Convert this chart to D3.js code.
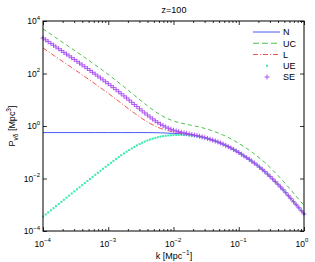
<!DOCTYPE html>
<html>
<head>
<meta charset="utf-8">
<script src="https://cdn.jsdelivr.net/npm/d3@7"></script>
<style>
  body { margin: 0; background: #fff; }
  svg { display: block; }
  text { font-family: "Liberation Sans", Arial, Helvetica, sans-serif; fill: #000; }
</style>
</head>
<body>
<svg id="chart" width="315" height="262"></svg>
<script>
// wave numbers for the marker series (25 per decade)
const kGrid = [
  1.00e-4, 1.10e-4, 1.20e-4, 1.32e-4, 1.45e-4, 1.58e-4, 1.74e-4, 1.91e-4, 2.09e-4, 2.29e-4,
  2.51e-4, 2.75e-4, 3.02e-4, 3.31e-4, 3.63e-4, 3.98e-4, 4.37e-4, 4.79e-4, 5.25e-4, 5.75e-4,
  6.31e-4, 6.92e-4, 7.59e-4, 8.32e-4, 9.12e-4,
  1.00e-3, 1.10e-3, 1.20e-3, 1.32e-3, 1.45e-3, 1.58e-3, 1.74e-3, 1.91e-3, 2.09e-3, 2.29e-3,
  2.51e-3, 2.75e-3, 3.02e-3, 3.31e-3, 3.63e-3, 3.98e-3, 4.37e-3, 4.79e-3, 5.25e-3, 5.75e-3,
  6.31e-3, 6.92e-3, 7.59e-3, 8.32e-3, 9.12e-3,
  1.00e-2, 1.10e-2, 1.20e-2, 1.32e-2, 1.45e-2, 1.58e-2, 1.74e-2, 1.91e-2, 2.09e-2, 2.29e-2,
  2.51e-2, 2.75e-2, 3.02e-2, 3.31e-2, 3.63e-2, 3.98e-2, 4.37e-2, 4.79e-2, 5.25e-2, 5.75e-2,
  6.31e-2, 6.92e-2, 7.59e-2, 8.32e-2, 9.12e-2,
  1.00e-1, 1.10e-1, 1.20e-1, 1.32e-1, 1.45e-1, 1.58e-1, 1.74e-1, 1.91e-1, 2.09e-1, 2.29e-1,
  2.51e-1, 2.75e-1, 3.02e-1, 3.31e-1, 3.63e-1, 3.98e-1, 4.37e-1, 4.79e-1, 5.25e-1, 5.75e-1,
  6.31e-1, 6.92e-1, 7.59e-1, 8.32e-1, 9.12e-1,
  1.00
];

const seValues = [
  2240, 1914, 1637, 1400, 1197, 1023, 875, 748, 640, 547,
  468, 400, 342, 292, 249, 213, 181, 154, 131, 111,
  94.4, 80.0, 67.7, 57.2, 48.4, 40.9, 34.4, 28.9, 24.2, 20.2,
  16.9, 14.0, 11.65, 9.66, 8.00, 6.62, 5.48, 4.54, 3.77, 3.14,
  2.625, 2.20, 1.854, 1.576, 1.352, 1.173, 1.030, 0.915, 0.823, 0.751,
  0.693, 0.646, 0.606, 0.573, 0.545, 0.520, 0.496, 0.473, 0.452, 0.430,
  0.408, 0.384, 0.360, 0.337, 0.313, 0.290, 0.2685, 0.246, 0.2248, 0.2036,
  0.1824, 0.163, 0.145, 0.128, 0.112, 0.0977, 0.0843, 0.0724, 0.0624, 0.0537,
  0.0457, 0.0385, 0.0324, 0.0269, 0.0224, 0.0182, 0.0148, 0.0120, 0.00955, 0.00759,
  0.00603, 0.00473, 0.00372, 0.00288, 0.00221, 0.00170, 0.00130, 0.00100, 7.67e-4, 5.89e-4,
  4.47e-4
];

const ueValues = [
  3.55e-4, 4.27e-4, 5.13e-4, 6.16e-4, 7.40e-4, 8.90e-4, 1.07e-3, 1.285e-3, 1.545e-3, 1.856e-3,
  2.23e-3, 2.68e-3, 3.22e-3, 3.86e-3, 4.64e-3, 5.57e-3, 6.68e-3, 8.01e-3, 9.61e-3, 0.0115,
  0.0138, 0.0165, 0.0197, 0.0235, 0.0280, 0.0334, 0.0396, 0.0470, 0.0556, 0.0655,
  0.0769, 0.0900, 0.1048, 0.1215, 0.1399, 0.1601, 0.1820, 0.2054, 0.2300, 0.2554,
  0.2812, 0.3063, 0.3301, 0.3529, 0.3743, 0.3930, 0.4101, 0.4238, 0.4357, 0.4456,
  0.4529, 0.4572, 0.4589, 0.4583, 0.4553, 0.4501, 0.4412, 0.4306, 0.4194, 0.4047,
  0.3882, 0.3690, 0.3487, 0.3281, 0.3067, 0.2855, 0.2644, 0.2438, 0.2226, 0.2017,
  0.1812, 0.1621, 0.1441, 0.1274, 0.1120, 0.0976, 0.0842, 0.0723, 0.0623, 0.0536,
  0.0457, 0.0385, 0.0324, 0.0269, 0.0224, 0.0182, 0.0148, 0.0120, 0.00955, 0.00759,
  0.00603, 0.00473, 0.00372, 0.00288, 0.00221, 0.00170, 0.00130, 0.00100, 7.67e-4, 5.89e-4,
  4.47e-4
];

// coarser grid for the plain line series
const kLine = [
  1.00e-4, 1.58e-4, 2.51e-4, 3.98e-4, 6.31e-4,
  1.00e-3, 1.58e-3, 2.51e-3, 3.98e-3, 6.31e-3,
  1.00e-2, 1.58e-2, 2.51e-2, 3.98e-2, 6.31e-2,
  1.00e-1, 1.58e-1, 2.51e-1, 3.98e-1, 6.31e-1,
  1.00
];
const nValues = [
  0.562, 0.562, 0.562, 0.562, 0.562, 0.562, 0.562, 0.562, 0.562, 0.550,
  0.525, 0.479, 0.398, 0.288, 0.182, 0.0977, 0.0457, 0.0182, 0.00603, 0.00170,
  4.47e-4
];
const ucValues = [
  5018, 2292, 1048, 477, 211, 91.6, 37.9, 14.8, 5.88, 2.63,
  1.55, 1.165, 0.914, 0.650, 0.409, 0.219, 0.1024, 0.0402, 0.0131, 0.00364,
  9.3e-4
];
const lValues = [
  940, 430, 197, 89.6, 40.0, 17.5, 7.41, 3.11, 1.43, 0.812,
  0.596, 0.496, 0.402, 0.289, 0.182, 0.0977, 0.0457, 0.0182, 0.00603, 0.00170,
  4.47e-4
];

const legendNames = ["N", "UC", "L", "UE", "SE"];
const xMajor = [1e-4, 1e-3, 1e-2, 1e-1, 1];
const yMajor = [1e-4, 1e-2, 1, 1e2, 1e4];

const plotLeft = 43, plotRight = 304, plotTop = 21, plotBottom = 231;
const svg = d3.select("#chart");

const x = d3.scaleLog().domain([1e-4, 1]).range([plotLeft, plotRight]);
const y = d3.scaleLog().domain([1e-4, 1e4]).range([plotBottom, plotTop]);

const colN = "#3548f5", colUC = "#3cb83c", colL = "#f04040", colUE = "#38eab0", colSE = "#a444f4";

// lines
const line = d3.line()
    .x(d => x(d[0]))
    .y(d => y(d[1]))
    .curve(d3.curveMonotoneX);

svg.append("path")
    .attr("d", line(d3.zip(kLine, nValues)))
    .attr("fill", "none").attr("stroke", colN).attr("stroke-width", 0.9);
svg.append("path")
    .attr("d", line(d3.zip(kLine, ucValues)))
    .attr("fill", "none").attr("stroke", colUC).attr("stroke-width", 0.9)
    .attr("stroke-dasharray", "4,3");
svg.append("path")
    .attr("d", line(d3.zip(kLine, lValues)))
    .attr("fill", "none").attr("stroke", colL).attr("stroke-width", 0.9)
    .attr("stroke-dasharray", "5,2,1,2");

// UE dots
svg.selectAll(".ue")
    .data(d3.zip(kGrid, ueValues))
    .join("rect")
    .attr("class", "ue")
    .attr("x", d => x(d[0]) - 1)
    .attr("y", d => y(d[1]) - 1)
    .attr("width", 2).attr("height", 2)
    .attr("fill", colUE);

// SE plus markers
const plus = "M-2.5,0H2.5M0,-2.5V2.5";
svg.selectAll(".se")
    .data(d3.zip(kGrid, seValues))
    .join("path")
    .attr("class", "se")
    .attr("transform", d => `translate(${x(d[0])},${y(d[1])})`)
    .attr("d", plus)
    .attr("fill", "none").attr("stroke", colSE).attr("stroke-width", 0.9);

// axes: ticks point inward on all four sides
const xMinor = x.ticks().filter(d => !xMajor.some(m => Math.abs(m - d) / m < 1e-6));

function drawAxis(axis, tx, ty) {
    const g = svg.append("g").attr("transform", `translate(${tx},${ty})`).call(axis);
    g.select(".domain").remove();
    g.selectAll("line").attr("stroke", "#000").attr("stroke-width", 0.8);
    g.selectAll("text").remove();
}
drawAxis(d3.axisBottom(x).tickValues(xMinor).tickSizeInner(-2).tickSizeOuter(0), 0, plotBottom);
drawAxis(d3.axisBottom(x).tickValues(xMajor).tickSizeInner(-4).tickSizeOuter(0), 0, plotBottom);
drawAxis(d3.axisTop(x).tickValues(xMinor).tickSizeInner(-2).tickSizeOuter(0), 0, plotTop);
drawAxis(d3.axisTop(x).tickValues(xMajor).tickSizeInner(-4).tickSizeOuter(0), 0, plotTop);
drawAxis(d3.axisLeft(y).tickValues(yMajor).tickSizeInner(-4).tickSizeOuter(0), plotLeft, 0);
drawAxis(d3.axisRight(y).tickValues(yMajor).tickSizeInner(-4).tickSizeOuter(0), plotRight, 0);

svg.append("rect")
    .attr("x", plotLeft).attr("y", plotTop)
    .attr("width", plotRight - plotLeft).attr("height", plotBottom - plotTop)
    .attr("fill", "none").attr("stroke", "#000").attr("stroke-width", 1);

// tick labels as 10 with a superscript
xMajor.forEach(v => {
    const e = Math.round(Math.log10(v));
    svg.append("text")
        .attr("x", x(v) + 1).attr("y", 247)
        .attr("text-anchor", "end")
        .attr("font-size", 8.5)
        .text("10");
    svg.append("text")
        .attr("x", x(v) + 1).attr("y", 242)
        .attr("font-size", 6)
        .text(e === 0 ? "0" : "\u2212" + Math.abs(e));
});
yMajor.forEach(v => {
    const e = Math.round(Math.log10(v));
    const t = svg.append("text")
        .attr("x", 40).attr("y", y(v) + 3)
        .attr("text-anchor", "end")
        .attr("font-size", 8.5);
    t.append("tspan").text("10");
    t.append("tspan").attr("dy", -4.5).attr("font-size", 6)
        .text(e < 0 ? "\u2212" + Math.abs(e) : String(e));
});

// titles
svg.append("text")
    .attr("x", 174).attr("y", 13)
    .attr("text-anchor", "middle").attr("font-size", 9)
    .text("z=100");

const xl = svg.append("text")
    .attr("x", 174).attr("y", 259)
    .attr("text-anchor", "middle").attr("font-size", 9);
xl.append("tspan").text("k [Mpc");
xl.append("tspan").attr("dy", -4).attr("font-size", 6.5).text("\u22121");
xl.append("tspan").attr("dy", 4).text("]");

const yl = svg.append("text")
    .attr("transform", "translate(15,126) rotate(-90)")
    .attr("text-anchor", "middle").attr("font-size", 9);
yl.append("tspan").text("P");
yl.append("tspan").attr("dy", 2.5).attr("font-size", 6.5).text("v\u03b4");
yl.append("tspan").attr("dy", -2.5).text(" [Mpc");
yl.append("tspan").attr("dy", -4).attr("font-size", 6.5).text("3");
yl.append("tspan").attr("dy", 4).text("]");

// legend
const legendY = d3.scalePoint().domain(legendNames).range([32, 77]);
const lg = svg.append("g");
const styles = {
    N: { stroke: colN, dash: null },
    UC: { stroke: colUC, dash: "6,3" },
    L: { stroke: colL, dash: "5,2,1,2" }
};
legendNames.forEach(name => {
    const yy = legendY(name);
    if (styles[name]) {
        lg.append("line")
            .attr("x1", 253).attr("x2", 280).attr("y1", yy).attr("y2", yy)
            .attr("stroke", styles[name].stroke).attr("stroke-width", 0.9)
            .attr("stroke-dasharray", styles[name].dash);
    } else if (name === "UE") {
        lg.append("rect").attr("x", 266).attr("y", yy - 1)
            .attr("width", 2).attr("height", 2).attr("fill", colUE);
    } else {
        lg.append("path").attr("transform", `translate(267,${yy})`)
            .attr("d", plus).attr("fill", "none")
            .attr("stroke", colSE).attr("stroke-width", 0.9);
    }
    lg.append("text")
        .attr("x", 283).attr("y", yy + 3.3)
        .attr("font-size", 9)
        .text(name);
});
</script>
</body>
</html>
